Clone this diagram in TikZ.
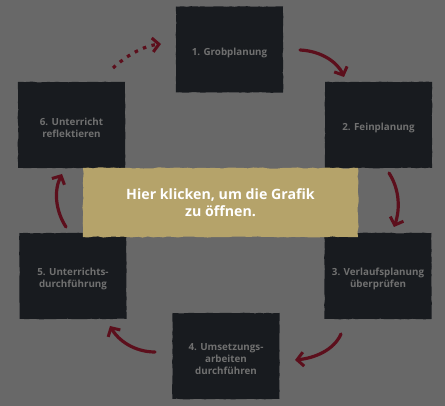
\documentclass[tikz,border=0pt]{standalone}
\usepackage{fontspec}
\setmainfont{Open Sans}
\usetikzlibrary{arrows.meta,decorations.pathmorphing}
\definecolor{bg}{HTML}{686868}
\definecolor{boxc}{HTML}{181B1F}
\definecolor{boxt}{HTML}{707070}
\definecolor{banc}{HTML}{B5A36A}
\definecolor{arc}{HTML}{5C0F1C}
\begin{document}
\begin{tikzpicture}[x=1pt,y=-1pt,
  stepbox/.style={fill=boxc,minimum width=107pt,minimum height=86pt,inner sep=0pt,
    decorate,decoration={random steps,segment length=4pt,amplitude=0.35pt},
    label={[steptext]center:#1}},
  steptext/.style={align=center,text=boxt,yshift=-3pt,
    font=\bfseries\fontsize{9.8}{11.8}\selectfont},
  conn/.style={draw=arc,line width=3.2pt,line cap=round,
    -{Straight Barb[length=6.5pt,width=14pt,line width=3pt]}},
  banner/.style={fill=banc,minimum width=275pt,minimum height=69pt,inner sep=0pt,
    align=center,text=white,font=\bfseries\fontsize{14.2}{17.5}\selectfont,
    decorate,decoration={random steps,segment length=5pt,amplitude=0.6pt}}]
\useasboundingbox (0,0) rectangle (445,406);
\fill[bg] (0,0) rectangle (445,406);
\node[stepbox={1. Grobplanung}] (b1) at (229.5,49.5) {};
\node[stepbox={2. Feinplanung}] (b2) at (378.5,125) {};
\node[stepbox={3. Verlaufsplanung\\ überprüfen}] (b3) at (378,276) {};
\node[stepbox={4. Umsetzungs-\\ arbeiten\\ durchführen}] (b4) at (226,356) {};
\node[stepbox={5. Unterrichts-\\ durchführung}] (b5) at (73,276) {};
\node[stepbox={6. Unterricht\\ reflektieren}] (b6) at (71.5,125) {};
\node[banner] (ban) at (220.5,202.5) {Hier klicken, um die Grafik\\ zu öffnen.};
\coordinate (a1s) at (300,50);  \coordinate (a1e) at (344,77);
\coordinate (a2s) at (389,173); \coordinate (a2e) at (394,227);
\coordinate (a3s) at (341,334); \coordinate (a3e) at (295,360);
\coordinate (a4s) at (155,352); \coordinate (a4e) at (110,326);
\coordinate (a5s) at (66,227);  \coordinate (a5e) at (62,174);
\coordinate (a6s) at (113,68);  \coordinate (a6e) at (161,44);
\draw[conn] (a1s) .. controls (322,51) and (338,63) .. (a1e);
\draw[conn] (a2s) .. controls (400,190) and (400,210) .. (a2e);
\draw[conn] (a3s) .. controls (334,350) and (315,358) .. (a3e);
\draw[conn] (a4s) .. controls (134,352) and (118,340) .. (a4e);
\draw[conn] (a5s) .. controls (55,210) and (54,190) .. (a5e);
\draw[conn,dash pattern=on 3.5pt off 5.5pt,line cap=butt] (a6s) .. controls (126,56) and (143,46) .. (a6e);
\end{tikzpicture}
\end{document}
